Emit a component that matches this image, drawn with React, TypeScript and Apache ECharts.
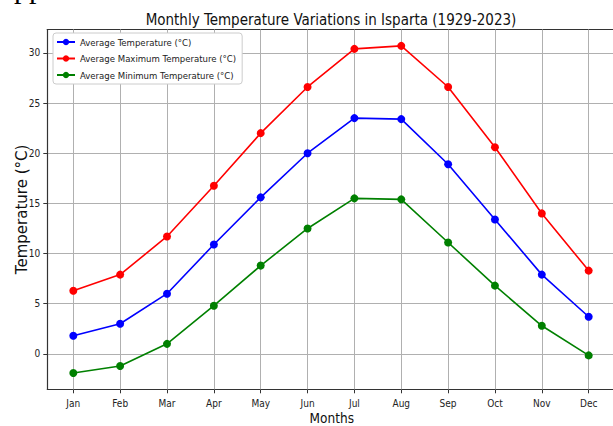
import React, { useEffect, useRef } from "react";
import * as echarts from "echarts";

const months = ["Jan", "Feb", "Mar", "Apr", "May", "Jun", "Jul", "Aug", "Sep", "Oct", "Nov", "Dec"];
const avgTemp = [1.8, 3.0, 6.0, 10.9, 15.6, 20.0, 23.5, 23.4, 18.9, 13.4, 7.9, 3.7];
const maxTemp = [6.3, 7.9, 11.7, 16.75, 22.0, 26.6, 30.4, 30.7, 26.6, 20.6, 14.0, 8.3];
const minTemp = [-1.9, -1.2, 1.0, 4.8, 8.8, 12.5, 15.5, 15.4, 11.1, 6.8, 2.8, -0.15];
const yTicks = [0, 5, 10, 15, 20, 25, 30];
const seriesNames = [
  "Average Temperature (°C)",
  "Average Maximum Temperature (°C)",
  "Average Minimum Temperature (°C)",
];

const NARROW = "'Liberation Sans Narrow', 'DejaVu Sans Condensed', 'Liberation Sans', sans-serif";
const GRID_COLOR = "#b0b0b0";
const X_MIN = -0.555;
const X_MAX = 11.59;

export default function App() {
  const ref = useRef<HTMLDivElement>(null);
  useEffect(() => {
    if (!ref.current) return;
    const chart = echarts.init(ref.current, null, { renderer: "svg" });
    const xIdx = months.map((_, i) => i);
    const mk = (name: string, vals: number[], color: string) => ({
      name,
      type: "line",
      data: vals.map((v, i) => [i, v]),
      symbol: "circle",
      symbolSize: 8,
      itemStyle: { color },
      lineStyle: { color, width: 1.6 },
      z: 3,
    });
    chart.setOption({
      animation: false,
      backgroundColor: "#ffffff",
      title: {
        text: "Monthly Temperature Variations in Isparta (1929-2023)",
        left: 326,
        textAlign: "center",
        top: 7,
        textStyle: { fontFamily: NARROW, fontSize: 15, fontWeight: "normal", color: "#111" },
      },
      graphic: [
        {
          type: "text",
          left: 14,
          top: -28,
          style: { text: "pp", font: "30px 'Liberation Serif', serif", fill: "#000" },
        },
      ],
      legend: {
        orient: "vertical",
        left: 53,
        top: 33,
        z: 10,
        data: seriesNames,
        itemWidth: 18,
        itemHeight: 8,
        itemGap: 6.5,
        padding: [4, 6, 4, 3],
        backgroundColor: "#ffffff",
        borderColor: "#cccccc",
        borderWidth: 1,
        borderRadius: 3,
        textStyle: { fontFamily: NARROW, fontSize: 9.5, color: "#222" },
      },
      grid: {
        left: 47.3,
        top: 29.5,
        width: 569,
        height: 359.8,
        show: false,
        containLabel: false,
        outerBoundsMode: "none",
      },
      xAxis: [
        {
          type: "value",
          min: X_MIN,
          max: X_MAX,
          name: "Months",
          nameLocation: "middle",
          nameGap: 22,
          nameMoveOverlap: false,
          nameTextStyle: { fontFamily: NARROW, fontSize: 13.5, color: "#111" },
          axisLine: { show: true, onZero: false, lineStyle: { color: "#333", width: 1.2 } },
          axisTick: { show: true, length: 4, customValues: xIdx, lineStyle: { color: "#333" } },
          axisLabel: {
            customValues: xIdx,
            formatter: (v: number) => months[Math.round(v)] ?? "",
            fontFamily: NARROW,
            fontSize: 10,
            color: "#222",
            margin: 9,
          },
          splitLine: { show: false },
        },
        {
          type: "value",
          position: "top",
          min: X_MIN,
          max: X_MAX,
          axisLine: { show: true, onZero: false, lineStyle: { color: "#333", width: 1.2 } },
          axisTick: { show: false },
          axisLabel: { show: false },
          splitLine: { show: false },
        },
      ],
      yAxis: {
        type: "value",
        min: -3.53,
        max: 32.33,
        name: "Temperature (°C)",
        nameLocation: "middle",
        nameGap: 18,
        nameMoveOverlap: false,
        nameTextStyle: { fontFamily: "'DejaVu Sans', sans-serif", fontSize: 15, color: "#111" },
        axisLine: { show: true, onZero: false, lineStyle: { color: "#333", width: 1.2 } },
        axisTick: { show: true, length: 4, customValues: yTicks, lineStyle: { color: "#333" } },
        axisLabel: {
          customValues: yTicks,
          fontFamily: NARROW,
          fontSize: 10,
          color: "#222",
          margin: 7,
        },
        splitLine: { show: true, lineStyle: { color: GRID_COLOR, width: 1 } },
      },
      series: [
        {
          name: "xgrid",
          type: "line",
          data: [],
          z: 1,
          silent: true,
          markLine: {
            z: 1,
            silent: true,
            symbol: ["none", "none"],
            label: { show: false },
            lineStyle: { color: GRID_COLOR, width: 1, type: "solid" },
            emphasis: { disabled: true },
            data: xIdx.map((i) => ({ xAxis: i })),
          },
        },
        mk(seriesNames[0], avgTemp, "#0000ff"),
        mk(seriesNames[1], maxTemp, "#ff0000"),
        mk(seriesNames[2], minTemp, "#008000"),
      ],
    });
    return () => chart.dispose();
  }, []);
  return (
    <div
      ref={ref}
      style={{ position: "fixed", left: 0, top: 0, width: 613, height: 426, overflow: "hidden" }}
    />
  );
}
